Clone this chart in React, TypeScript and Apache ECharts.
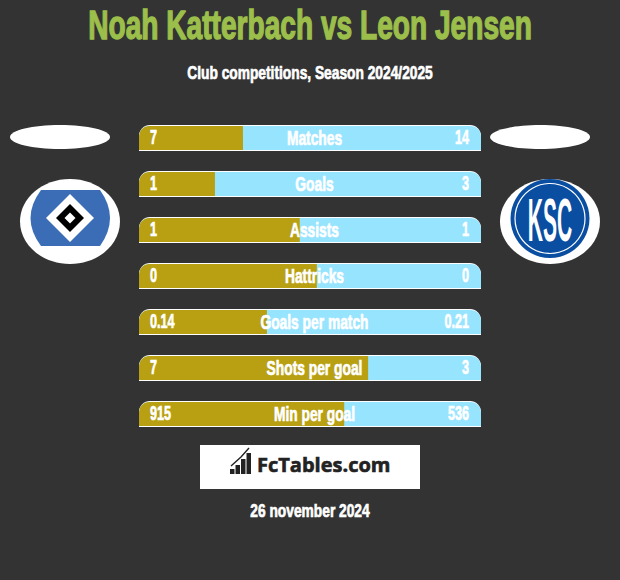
import React, { useEffect, useRef } from "react";
import * as echarts from "echarts";

const categories = ["Matches", "Goals", "Assists", "Hattricks", "Goals per match", "Shots per goal", "Min per goal"];
const leftLabels = ["7", "1", "1", "0", "0.14", "7", "915"];
const rightLabels = ["14", "3", "1", "0", "0.21", "3", "536"];
const leftShare = [30.4, 22.2, 47, 52, 37.4, 67, 60];

const titleText = "Noah Katterbach vs Leon Jensen";
const subtitleText = "Club competitions, Season 2024/2025";
const dateText = "26 november 2024";
const brandText = "FcTables.com";

const FONT = '"Liberation Sans", sans-serif';
const BG = "#333333";
const GOLD = "#b8a012";
const SKY = "#97e4ff";

echarts.graphic.registerShape(
  "hsvShield",
  echarts.graphic.extendPath(
    "M41 190 L100 190 Q120 218 100 246 L41 246 Q20 218 41 190 Z",
    {}
  )
);

function diamond(cx: number, cy: number, r: number, fill: string) {
  return {
    type: "polygon",
    shape: { points: [[cx, cy - r], [cx + r, cy], [cx, cy + r], [cx - r, cy]] },
    style: { fill },
  };
}

function narrowText(text: string, x: number, y: number, size: number, scaleX: number, fill: string, align: string, weight: number) {
  return {
    type: "text",
    x,
    y,
    scaleX,
    style: {
      text,
      x: 0,
      y: 0,
      fill,
      stroke: fill,
      lineWidth: weight,
      font: `bold ${size}px ${FONT}`,
      textAlign: align,
      textVerticalAlign: "middle",
    },
  };
}

function renderRow(params: any, api: any) {
  const i = api.value(0);
  const share = api.value(1);
  const [x0, yc] = api.coord([0, i]);
  const [x1] = api.coord([100, i]);
  const [xs] = api.coord([share, i]);
  const top = yc - 13;
  const label = (text: string, x: number, align: string, sx: number) => {
    const el: any = narrowText(text, x, yc - 0.2, 20, sx, "#ffffff", align, 0.7);
    el.z2 = 5;
    el.style.shadowColor = "rgba(0,0,0,0.6)";
    el.style.shadowBlur = 2;
    el.style.shadowOffsetX = 2;
    el.style.shadowOffsetY = 2;
    return el;
  };
  return {
    type: "group",
    children: [
      { type: "rect", shape: { x: x0, y: top, width: x1 - x0, height: 26, r: [11, 11, 0, 0] }, style: { fill: "#ffffff" } },
      { type: "rect", shape: { x: x0, y: top + 1, width: x1 - x0, height: 24, r: [10, 10, 0, 0] }, style: { fill: SKY } },
      { type: "rect", shape: { x: x0, y: top + 1, width: xs - x0, height: 24, r: [10, 0, 0, 0] }, style: { fill: GOLD } },
      label(leftLabels[i], x0 + 11, "left", 0.63),
      label(rightLabels[i], x1 - 12, "right", 0.63),
      label(categories[i], x0 + 175.5, "center", 0.69),
    ],
  };
}

export default function App() {
  const ref = useRef<HTMLDivElement>(null);
  useEffect(() => {
    document.body.style.margin = "0";
    document.body.style.background = BG;
    const chart = echarts.init(ref.current!, null, { renderer: "svg" });
    chart.setOption({
      animation: false,
      backgroundColor: BG,
      grid: { left: 139, width: 342, top: 115, height: 322 },
      xAxis: { type: "value", min: 0, max: 100, show: false },
      yAxis: { type: "category", data: categories, inverse: true, show: false },
      series: [
        {
          type: "custom",
          coordinateSystem: "cartesian2d",
          renderItem: renderRow,
          encode: { x: 1, y: 0 },
          data: leftShare.map((s, i) => [i, s]),
          silent: true,
          clip: false,
        },
      ],
      graphic: [
        narrowText(titleText, 310, 25.5, 40, 0.703, "#9bbf4a", "center", 1.4),
        narrowText(subtitleText, 310, 73, 19, 0.725, "#ffffff", "center", 0.7),
        { type: "ellipse", shape: { cx: 60, cy: 137, rx: 50, ry: 12 }, style: { fill: "#ffffff" } },
        { type: "ellipse", shape: { cx: 540, cy: 137, rx: 50, ry: 12 }, style: { fill: "#ffffff" } },
        { type: "ellipse", shape: { cx: 70, cy: 221.5, rx: 50, ry: 42.5 }, style: { fill: "#ffffff" } },
        { type: "hsvShield", x: 0, y: 0, style: { fill: "#3a6db5" } },
        diamond(70, 218, 24, "#ffffff"),
        diamond(70, 218, 14, "#000000"),
        diamond(70, 218, 5.5, "#ffffff"),
        { type: "ellipse", shape: { cx: 550, cy: 221.5, rx: 50, ry: 42.5 }, style: { fill: "#ffffff" } },
        { type: "circle", shape: { cx: 550, cy: 218.5, r: 39.5 }, style: { fill: "#0a4ea2" } },
        { type: "circle", shape: { cx: 550, cy: 218.5, r: 35 }, style: { fill: "none", stroke: "#ffffff", lineWidth: 1.2 } },
        narrowText("KSC", 550, 220, 62, 0.34, "#ffffff", "center", 0),
        { type: "rect", shape: { x: 200, y: 445, width: 220, height: 44 }, style: { fill: "#ffffff" } },
        { type: "rect", shape: { x: 230, y: 469, width: 4.5, height: 5 }, style: { fill: "#222222" } },
        { type: "rect", shape: { x: 235.5, y: 465, width: 4.5, height: 9 }, style: { fill: "#222222" } },
        { type: "rect", shape: { x: 241, y: 459, width: 4.5, height: 15 }, style: { fill: "#222222" } },
        { type: "rect", shape: { x: 246.5, y: 453, width: 4.5, height: 21 }, style: { fill: "#222222" } },
        { type: "polyline", shape: { points: [[231, 466], [241, 457], [249, 448]] }, style: { fill: "none", stroke: "#222222", lineWidth: 1.4 } },
        { type: "text", x: 257, y: 464, style: { text: brandText, fill: "#222222", stroke: "#222222", lineWidth: 0.6, font: 'bold 20px "Open Sans", sans-serif', textAlign: "left", textVerticalAlign: "middle" } },
        narrowText(dateText, 310, 510.5, 19, 0.725, "#ffffff", "center", 0.7),
      ],
    });
    return () => chart.dispose();
  }, []);
  return <div ref={ref} style={{ width: 620, height: 580 }} />;
}
